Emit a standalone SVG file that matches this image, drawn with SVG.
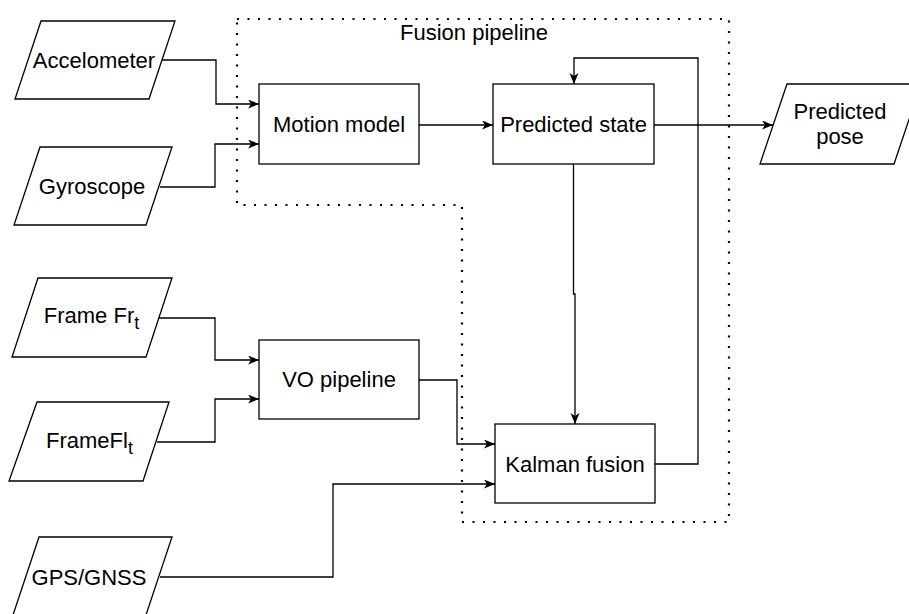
<svg xmlns="http://www.w3.org/2000/svg" width="909" height="614" viewBox="0 0 909 614">
  <defs>
    <style>
      .shape { fill: #ffffff; stroke: #000000; stroke-width: 1.3; }
      .label { font-family: "Liberation Sans", Arial, Helvetica, sans-serif; font-size: 22px; fill: #000000; text-anchor: middle; }
      .sub { font-size: 18px; }
      .wire { fill: none; stroke: #000000; stroke-width: 1.3; }
      .arrow { marker-end: url(#head); }
      .group-border { fill: none; stroke: #000000; stroke-width: 2.2; stroke-dasharray: 2 8.5; }
    </style>
    <marker id="head" markerUnits="userSpaceOnUse" markerWidth="12" markerHeight="10" refX="11" refY="4.5" orient="auto">
      <path d="M0,0 L11,4.5 L0,9 L3,4.5 Z" fill="#000000"/>
    </marker>
  </defs>

  <rect x="0" y="0" width="909" height="614" fill="#ffffff"/>

  <!-- Fusion pipeline boundary -->
  <g id="fusion-pipeline">
    <polygon class="group-border" points="237,19 729,19 729,522 462,522 462,205 237,205"/>
    <text class="label" x="474" y="40">Fusion pipeline</text>
  </g>

  <!-- Connectors -->
  <g id="connectors">
    <path class="wire arrow" d="M162,60 H216 V104 H259"/>
    <path class="wire arrow" d="M160,187 H215 V144 H259"/>
    <path class="wire arrow" d="M419,125 H493"/>
    <path class="wire arrow" d="M654,125 H773"/>
    <path class="wire arrow" d="M573.5,164 V294 H575 V424"/>
    <path class="wire arrow" d="M655,464 H698 V58 H574 V84"/>
    <path class="wire arrow" d="M159,318 H215 V360 H259"/>
    <path class="wire arrow" d="M157,442 H215 V399 H259"/>
    <path class="wire arrow" d="M419,380 H457 V444 H495"/>
    <path class="wire arrow" d="M160,577 H333 V484 H495"/>
  </g>

  <!-- Inputs -->
  <g id="accelometer">
    <polygon class="shape" points="41,21 175,21 149,99 15,99"/>
    <text class="label" x="94" y="68">Accelometer</text>
  </g>
  <g id="gyroscope">
    <polygon class="shape" points="40,147 172,147 146,225 14,225"/>
    <text class="label" x="92" y="194">Gyroscope</text>
  </g>
  <g id="frame-fr">
    <polygon class="shape" points="38,278 172,278 146,357 12,357"/>
    <text class="label" x="91.5" y="323">Frame Fr<tspan class="sub" dy="6">t</tspan></text>
  </g>
  <g id="frame-fl">
    <polygon class="shape" points="37,402 169,402 143,481 9,481"/>
    <text class="label" x="89.5" y="448">FrameFl<tspan class="sub" dy="6">t</tspan></text>
  </g>
  <g id="gps-gnss">
    <polygon class="shape" points="39,537 172,537 146,615 13,615"/>
    <text class="label" x="89" y="585">GPS/GNSS</text>
  </g>

  <!-- Processing blocks -->
  <g id="motion-model">
    <rect class="shape" x="259" y="84" width="160" height="80"/>
    <text class="label" x="339" y="132">Motion model</text>
  </g>
  <g id="predicted-state">
    <rect class="shape" x="493" y="84" width="161" height="80"/>
    <text class="label" x="573.5" y="132">Predicted state</text>
  </g>
  <g id="vo-pipeline">
    <rect class="shape" x="259" y="340" width="160" height="79"/>
    <text class="label" x="339" y="387">VO pipeline</text>
  </g>
  <g id="kalman-fusion">
    <rect class="shape" x="495" y="424" width="160" height="79"/>
    <text class="label" x="575" y="472">Kalman fusion</text>
  </g>

  <!-- Output -->
  <g id="predicted-pose">
    <polygon class="shape" points="787,84 921,84 894,164 760,164"/>
    <text class="label" x="840" y="119">Predicted</text>
    <text class="label" x="840" y="144">pose</text>
  </g>
</svg>
